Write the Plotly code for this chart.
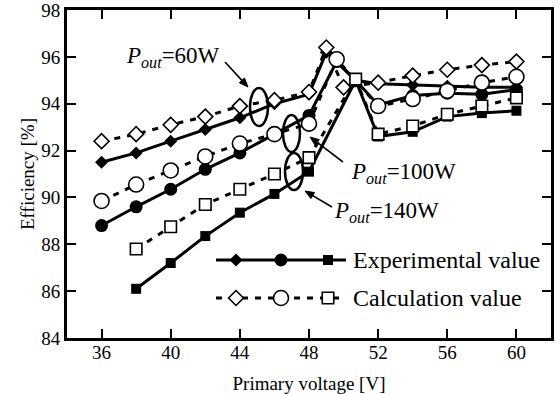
import plotly.graph_objects as go

# ---------------- data ----------------
exp60_x = [36, 38, 40, 42, 44, 46, 48, 49, 50.7, 52, 54, 56, 58, 60]
exp60_y = [91.5, 91.9, 92.4, 92.9, 93.4, 94.0, 94.4, 96.2, 95.0, 94.85, 94.8, 94.75, 94.7, 94.7]
exp100_x = [36, 38, 40, 42, 44, 46, 48, 49.6, 50.7, 52, 54, 56, 58, 60]
exp100_y = [88.8, 89.6, 90.35, 91.2, 91.9, 92.7, 93.5, 95.8, 95.0, 93.95, 94.35, 94.45, 94.4, 94.6]
exp140_x = [38, 40, 42, 44, 46, 48, 50.7, 52, 54, 56, 58, 60]
exp140_y = [86.1, 87.2, 88.35, 89.35, 90.15, 91.1, 95.0, 92.6, 92.8, 93.45, 93.6, 93.7]

calc60_x = [36, 38, 40, 42, 44, 46, 48, 49, 50, 52, 54, 56, 58, 60]
calc60_y = [92.4, 92.7, 93.1, 93.45, 93.9, 94.15, 94.5, 96.4, 94.7, 94.9, 95.2, 95.45, 95.65, 95.8]
calc100_x = [36, 38, 40, 42, 44, 46, 48, 49.6, 52, 54, 56, 58, 60]
calc100_y = [89.85, 90.55, 91.15, 91.75, 92.3, 92.7, 93.15, 95.9, 93.9, 94.2, 94.55, 94.9, 95.15]
calc140_x = [38, 40, 42, 44, 46, 48, 50.7, 52, 54, 56, 58, 60]
calc140_y = [87.8, 88.75, 89.7, 90.35, 91.0, 91.7, 95.05, 92.7, 93.05, 93.55, 93.9, 94.25]

x_ticks = [36, 40, 44, 48, 52, 56, 60]
y_ticks = [84, 86, 88, 90, 92, 94, 96, 98]
x_title = "Primary voltage [V]"
y_title = "Efficiency [%]"
legend_labels = ["Experimental value", "Calculation value"]
pout_labels = ["60W", "100W", "140W"]

# ---------------- style / geometry ----------------
FONT = "Liberation Serif, Times New Roman, serif"
BLACK = "black"
LW = 3
DASH = "6px,7px"
W, H = 560, 394
ML, MR, MT, MB = 67, 9, 10, 56
PW, PH = W - ML - MR, H - MT - MB


def px2paper(px, py):
    return (px - ML) / PW, (H - MB - py) / PH


fig = go.Figure()

exp_series = [(exp60_x, exp60_y, "diamond", 10), (exp100_x, exp100_y, "circle", 13),
              (exp140_x, exp140_y, "square", 10)]
calc_series = [(calc60_x, calc60_y, "diamond", 11.5), (calc100_x, calc100_y, "circle", 15),
               (calc140_x, calc140_y, "square", 11.5)]

for xs, ys, sym, sz in exp_series:
    fig.add_trace(go.Scatter(x=xs, y=ys, mode="lines+markers",
                             line=dict(color=BLACK, width=LW),
                             marker=dict(symbol=sym, size=sz, color=BLACK),
                             showlegend=False))
for xs, ys, sym, sz in calc_series:
    fig.add_trace(go.Scatter(x=xs, y=ys, mode="lines+markers",
                             line=dict(color=BLACK, width=LW, dash=DASH),
                             marker=dict(symbol=sym, size=sz, color="white",
                                         line=dict(color=BLACK, width=1.6)),
                             showlegend=False))

# ---------------- custom legend (auxiliary 0..1 axes) ----------------
LEG_PX_X = [216, 236, 281, 328, 346]
LEG_PX_ROWS = [260, 298]
LEG_TEXT_PX = 351
leg_syms = ["diamond", "circle", "square"]
leg_sizes_f = [10, 13, 10]
leg_sizes_o = [11.5, 15, 11.5]
for r, (row_py, lab) in enumerate(zip(LEG_PX_ROWS, legend_labels)):
    xs = [px2paper(p, row_py)[0] for p in LEG_PX_X]
    row_y = px2paper(0, row_py)[1]
    fig.add_trace(go.Scatter(x=[xs[0], xs[-1]], y=[row_y, row_y], mode="lines",
                             line=dict(color=BLACK, width=LW, dash=None if r == 0 else DASH),
                             xaxis="x2", yaxis="y2", showlegend=False, hoverinfo="skip"))
    for sx, sym, sf, so in zip(xs[1:4], leg_syms, leg_sizes_f, leg_sizes_o):
        if r == 0:
            mk = dict(symbol=sym, size=sf, color=BLACK)
        else:
            mk = dict(symbol=sym, size=so, color="white", line=dict(color=BLACK, width=1.6))
        fig.add_trace(go.Scatter(x=[sx], y=[row_y], mode="markers", marker=mk,
                                 xaxis="x2", yaxis="y2", showlegend=False, hoverinfo="skip"))
    fig.add_annotation(x=px2paper(LEG_TEXT_PX, 0)[0], y=row_y, xref="paper", yref="paper",
                       text=lab, showarrow=False, xanchor="left", yanchor="middle",
                       font=dict(family=FONT, size=24, color=BLACK))

# ---------------- P_out labels, arrows, ellipses ----------------
TXT_PX = [(124, 57), (349, 173), (332, 212)]
for (tx, ty), lab in zip(TXT_PX, pout_labels):
    px_, py_ = px2paper(tx, ty)
    fig.add_annotation(x=px_, y=py_, xref="paper", yref="paper",
                       text="<i>P</i><sub><i>out</i></sub>=" + lab,
                       showarrow=False, xanchor="left", yanchor="middle",
                       font=dict(family=FONT, size=23, color=BLACK))

ARROWS_PX = [((225, 62), (248, 87)), ((343, 162), (310, 137)), ((332, 207), (305, 191))]
HEAD_L, HEAD_W = 9, 3.5
for (tx, ty), (hx, hy) in ARROWS_PX:
    dx, dy = hx - tx, hy - ty
    n = (dx * dx + dy * dy) ** 0.5
    ux, uy = dx / n, dy / n
    bx, by = hx - ux * HEAD_L, hy - uy * HEAD_L
    p_t = px2paper(tx, ty)
    p_b = px2paper(bx + ux * 2, by + uy * 2)
    fig.add_shape(type="line", xref="paper", yref="paper", x0=p_t[0], y0=p_t[1],
                  x1=p_b[0], y1=p_b[1], line=dict(color=BLACK, width=1.6))
    pts = [(hx, hy), (bx - uy * HEAD_W, by + ux * HEAD_W), (bx + uy * HEAD_W, by - ux * HEAD_W)]
    pp = [px2paper(a, b) for a, b in pts]
    path = "M {} {} L {} {} L {} {} Z".format(pp[0][0], pp[0][1], pp[1][0], pp[1][1], pp[2][0], pp[2][1])
    fig.add_shape(type="path", xref="paper", yref="paper", path=path,
                  fillcolor=BLACK, line=dict(color=BLACK, width=1))

ELLIPSES_PX = [(250, 88, 268, 126), (283, 115, 300, 152), (285, 153, 303, 190)]
for x0, y0, x1, y1 in ELLIPSES_PX:
    a = px2paper(x0, y1)
    b = px2paper(x1, y0)
    fig.add_shape(type="circle", xref="paper", yref="paper", x0=a[0], y0=a[1], x1=b[0], y1=b[1],
                  line=dict(color=BLACK, width=2.5))

axis_common = dict(showline=True, linecolor=BLACK, linewidth=3, mirror="ticks",
                   ticks="inside", ticklen=9, tickwidth=2, tickcolor=BLACK,
                   showgrid=False, zeroline=False, automargin=False,
                   ticklabeloverflow="allow",
                   tickfont=dict(family=FONT, size=19, color=BLACK))

fig.update_layout(
    width=W, height=H,
    margin=dict(l=ML, r=MR, t=MT, b=MB, autoexpand=False),
    paper_bgcolor="white", plot_bgcolor="white",
    font=dict(family=FONT, color=BLACK),
    xaxis=dict(range=[34, 62], tickvals=x_ticks, ticktext=[str(v) for v in x_ticks],
               ticklabelstandoff=-5,
               title=dict(text=x_title, font=dict(family=FONT, size=19, color=BLACK), standoff=15),
               **axis_common),
    yaxis=dict(range=[84, 98], tickvals=y_ticks, ticktext=[str(v) for v in y_ticks],
               title=dict(text=y_title, font=dict(family=FONT, size=19, color=BLACK), standoff=2),
               **axis_common),
    xaxis2=dict(range=[0, 1], overlaying="x", visible=False, fixedrange=True),
    yaxis2=dict(range=[0, 1], overlaying="y", visible=False, fixedrange=True),
)

fig.write_html("out.html", config={"displayModeBar": False},
               post_script="document.body.style.margin='0';")
